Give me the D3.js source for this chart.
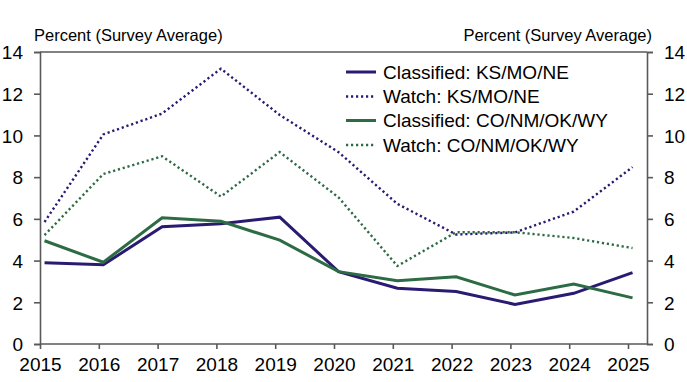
<!DOCTYPE html>
<html>
<head>
<meta charset="utf-8">
<script src="https://cdn.jsdelivr.net/npm/d3@7"></script>
<style>
  html, body { margin: 0; padding: 0; background: #fff; }
  svg { display: block; }
  text { font-family: "Liberation Sans", Arial, sans-serif; fill: #000; }
</style>
</head>
<body>
<svg id="chart" width="687" height="382"></svg>
<script>
const years = [2015, 2016, 2017, 2018, 2019, 2020, 2021, 2022, 2023, 2024, 2025];
const classifiedKS = [3.9, 3.8, 5.62, 5.77, 6.08, 3.47, 2.67, 2.52, 1.9, 2.43, 3.42];
const watchKS = [5.85, 10.05, 11.05, 13.2, 10.98, 9.2, 6.72, 5.25, 5.35, 6.35, 8.48];
const classifiedCO = [4.95, 3.92, 6.05, 5.88, 4.98, 3.47, 3.03, 3.22, 2.35, 2.88, 2.21];
const watchCO = [5.22, 8.15, 9.0, 7.07, 9.2, 7.03, 3.74, 5.36, 5.36, 5.08, 4.6];
const yTicks = [0, 2, 4, 6, 8, 10, 12, 14];
const axisTitle = "Percent (Survey Average)";

const seriesNames = ["Classified: KS/MO/NE", "Watch: KS/MO/NE", "Classified: CO/NM/OK/WY", "Watch: CO/NM/OK/WY"];
const seriesValues = [classifiedKS, watchKS, classifiedCO, watchCO];
const seriesColors = ["#2b1a72", "#2b1a72", "#2c6b43", "#2c6b43"];
const seriesDotted = [false, true, false, true];

(function () {
const svg = d3.select("#chart");
const mLeft = 40, mRight = 647, mTop = 52, mBottom = 344;
const x = d3.scaleLinear().domain([2015, 2025]).range([40, 628]);
const y = d3.scaleLinear().domain([0, 14]).range([mBottom, mTop]);
const dataShift = 0.077; // points sit slightly right of the year ticks
const axisColor = "#595959";

svg.append("line").attr("x1", mLeft).attr("x2", mRight).attr("y1", mTop).attr("y2", mTop)
  .attr("stroke", axisColor).attr("stroke-width", 1.6);

const gL = svg.append("g").attr("transform", `translate(${mLeft},0)`)
  .call(d3.axisLeft(y).tickValues(yTicks).tickSize(6).tickPadding(11).tickFormat(d3.format("d")));
const gR = svg.append("g").attr("transform", `translate(${mRight},0)`)
  .call(d3.axisRight(y).tickValues(yTicks).tickSize(6).tickPadding(11).tickFormat(d3.format("d")));
const gB = svg.append("g").attr("transform", `translate(0,${mBottom})`)
  .call(d3.axisBottom(x).tickValues(years).tickSize(5).tickPadding(9).tickFormat(d3.format("d")));

[gL, gR, gB].forEach(g => {
  g.select(".domain").attr("stroke", axisColor).attr("stroke-width", 1.6);
  g.selectAll(".tick line").attr("stroke", axisColor).attr("stroke-width", 1.6);
  g.selectAll("text").style("font-size", "19px").style("font-family", "'Liberation Sans', Arial, sans-serif").attr("fill", "#000");
});
gB.select(".domain").remove();
svg.append("line").attr("x1", mLeft).attr("x2", mRight).attr("y1", mBottom).attr("y2", mBottom)
  .attr("stroke", axisColor).attr("stroke-width", 1.6);
gL.selectAll(".tick text").attr("dy", "0.36em");
gR.selectAll(".tick text").attr("dy", "0.36em");

svg.append("text").attr("x", 34).attr("y", 41).style("font-size", "16.5px").text(axisTitle);
svg.append("text").attr("x", 652).attr("y", 41).attr("text-anchor", "end").style("font-size", "16.5px").text(axisTitle);

const line = d3.line().x((d, i) => x(years[i] + dataShift)).y(d => y(d));
seriesValues.forEach((vals, k) => {
  svg.append("path").datum(vals)
    .attr("d", line)
    .attr("fill", "none")
    .attr("stroke", seriesColors[k])
    .attr("stroke-width", seriesDotted[k] ? 2.4 : 3)
    .attr("stroke-dasharray", seriesDotted[k] ? "2.2,2.8" : null);
});

const legY = [72, 96.5, 120.5, 145];
seriesNames.forEach((name, k) => {
  const g = svg.append("g");
  g.append("line").attr("x1", 346).attr("x2", 376).attr("y1", legY[k]).attr("y2", legY[k])
    .attr("stroke", seriesColors[k])
    .attr("stroke-width", seriesDotted[k] ? 2.4 : 3)
    .attr("stroke-dasharray", seriesDotted[k] ? "2.2,2.8" : null);
  g.append("text").attr("x", 383).attr("y", legY[k]).attr("dy", "0.36em")
    .style("font-size", "19px").text(name);
});
})();
</script>
</body>
</html>
